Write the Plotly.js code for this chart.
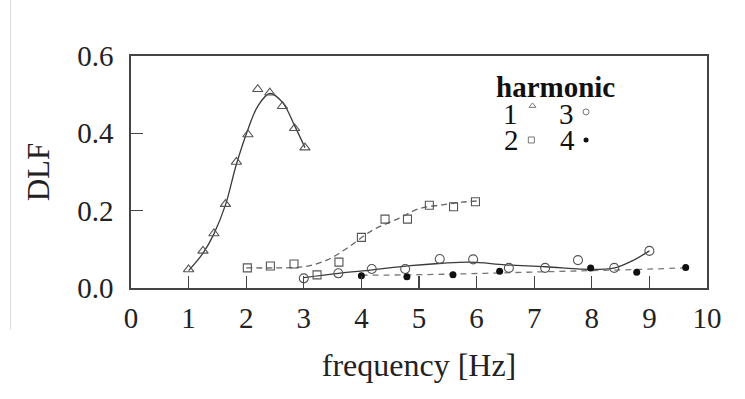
<!DOCTYPE html>
<html>
<head>
<meta charset="utf-8">
<script src="https://cdn.plot.ly/plotly-3.0.1.min.js"></script>
<style>html,body{margin:0;padding:0;background:#fff;}#chart{width:745px;height:399px;}</style>
</head>
<body>
<div id="chart"></div>
<script>
// Harmonic 1 (open triangles) measured points and fitted curve
const h1X = [1.0, 1.25, 1.44, 1.64, 1.83, 2.03, 2.2, 2.41, 2.63, 2.84, 3.02];
const h1Y = [0.048, 0.096, 0.141, 0.217, 0.326, 0.397, 0.514, 0.505, 0.47, 0.413, 0.363];
const h1FitX = [1.0, 1.25, 1.44, 1.64, 1.83, 2.03, 2.2, 2.41, 2.63, 2.84, 3.02];
const h1FitY = [0.045, 0.09, 0.14, 0.215, 0.32, 0.41, 0.47, 0.503, 0.48, 0.42, 0.363];

// Harmonic 2 (open squares) measured points and fitted dashed curve
const h2X = [2.02, 2.42, 2.83, 3.23, 3.61, 4.0, 4.41, 4.8, 5.18, 5.6, 5.98];
const h2Y = [0.052, 0.057, 0.062, 0.034, 0.067, 0.131, 0.178, 0.178, 0.214, 0.21, 0.223];
const h2FitX = [2.0, 2.5, 3.0, 3.4, 3.75, 4.2, 4.65, 5.0, 5.4, 5.75, 6.0];
const h2FitY = [0.052, 0.052, 0.055, 0.072, 0.103, 0.15, 0.18, 0.205, 0.215, 0.222, 0.225];

// Harmonic 3 (open circles) measured points and fitted solid curve
const h3X = [3.0, 3.6, 4.18, 4.76, 5.36, 5.94, 6.56, 7.19, 7.76, 8.39, 9.0];
const h3Y = [0.025, 0.038, 0.049, 0.049, 0.075, 0.074, 0.052, 0.052, 0.072, 0.052, 0.096];
const h3FitX = [3.0, 3.6, 4.2, 4.8, 5.4, 5.9, 6.5, 7.2, 7.8, 8.1, 8.4, 8.7, 9.0];
const h3FitY = [0.027, 0.038, 0.047, 0.057, 0.064, 0.067, 0.06, 0.055, 0.049, 0.048, 0.052, 0.07, 0.096];

// Harmonic 4 (filled circles) measured points and fitted dashed curve
const h4X = [4.0, 4.79, 5.59, 6.4, 7.98, 8.78, 9.63];
const h4Y = [0.032, 0.029, 0.034, 0.043, 0.052, 0.041, 0.053];
const h4FitX = [4.0, 4.8, 5.6, 6.4, 7.2, 8.0, 8.8, 9.6];
const h4FitY = [0.033, 0.034, 0.036, 0.039, 0.042, 0.045, 0.048, 0.052];

const xTicks = [0, 1, 2, 3, 4, 5, 6, 7, 8, 9, 10];
const yTicks = [0, 0.2, 0.4, 0.6];
const yTickText = ['0.0', '0.2', '0.4', '0.6'];

const lineCol = '#3a3a3a';
const markCol = '#555555';
const font = 'Liberation Serif, Times New Roman, serif';

const traces = [
  {x: h1FitX, y: h1FitY, mode: 'lines', line: {color: lineCol, width: 1.3, shape: 'spline'}, hoverinfo: 'skip'},
  {x: h2FitX, y: h2FitY, mode: 'lines', line: {color: '#666', width: 1.3, dash: '6px,4px', shape: 'spline'}, hoverinfo: 'skip'},
  {x: h3FitX, y: h3FitY, mode: 'lines', line: {color: lineCol, width: 1.3, shape: 'spline'}, hoverinfo: 'skip'},
  {x: h4FitX, y: h4FitY, mode: 'lines', line: {color: '#777', width: 1.3, dash: '6px,5px', shape: 'spline'}, hoverinfo: 'skip'},
  {x: h1X, y: h1Y, mode: 'markers', marker: {symbol: 'triangle-up-open', size: 9, color: markCol, line: {width: 1.1}}},
  {x: h2X, y: h2Y, mode: 'markers', marker: {symbol: 'square-open', size: 8, color: markCol, line: {width: 1.1}}},
  {x: h3X, y: h3Y, mode: 'markers', marker: {symbol: 'circle-open', size: 9, color: markCol, line: {width: 1.1}}},
  {x: h4X, y: h4Y, mode: 'markers', marker: {symbol: 'circle', size: 7, color: '#111'}},
  // legend key symbols on an overlay axis (0..1 box coordinates)
  {x: [0.697], y: [0.785], xaxis: 'x2', yaxis: 'y2', mode: 'markers', marker: {symbol: 'triangle-up-open', size: 6, color: '#777', line: {width: 1}}},
  {x: [0.790], y: [0.759], xaxis: 'x2', yaxis: 'y2', mode: 'markers', marker: {symbol: 'circle-open', size: 6, color: '#777', line: {width: 1}}},
  {x: [0.695], y: [0.638], xaxis: 'x2', yaxis: 'y2', mode: 'markers', marker: {symbol: 'square-open', size: 6, color: '#777', line: {width: 1}}},
  {x: [0.790], y: [0.638], xaxis: 'x2', yaxis: 'y2', mode: 'markers', marker: {symbol: 'circle', size: 5, color: '#111'}}
];

const ann = (x, y, text, size, h) => ({xref: 'paper', yref: 'paper', x: x, y: y, xanchor: 'center', yanchor: 'middle',
  height: h, borderpad: 0, text: text, showarrow: false, font: {family: font, size: size, color: '#111'}});

const layout = {
  width: 745, height: 399,
  margin: {l: 131, r: 38, t: 56, b: 111},
  paper_bgcolor: '#fff', plot_bgcolor: '#fff',
  showlegend: false,
  font: {family: font, color: '#222', size: 29},
  xaxis: {
    range: [0, 10], tickvals: xTicks, ticktext: xTicks.map(String),
    ticks: 'inside', ticklen: 12, tickwidth: 1.3, tickcolor: '#444',
    showline: true, linecolor: '#444', linewidth: 1.6, mirror: true,
    showgrid: false, zeroline: false, ticklabelstandoff: 4,
    tickfont: {family: font, size: 29, color: '#222'},
    title: {text: 'frequency [Hz]', font: {family: font, size: 32, color: '#222'}, standoff: 20}
  },
  yaxis: {
    range: [0, 0.6], tickvals: yTicks, ticktext: yTickText,
    ticks: 'inside', ticklen: 12, tickwidth: 1.3, tickcolor: '#444',
    showline: true, linecolor: '#444', linewidth: 1.6, mirror: true,
    showgrid: false, zeroline: false, ticklabelstandoff: 10,
    tickfont: {family: font, size: 29, color: '#222'},
    title: {text: 'DLF', font: {family: font, size: 31, color: '#222'}, standoff: 18}
  },
  xaxis2: {overlaying: 'x', range: [0, 1], visible: false},
  yaxis2: {overlaying: 'y', range: [0, 1], visible: false},
  annotations: [
    ann(0.7366, 0.868, '<b>harmonic</b>', 29, 26),
    ann(0.659, 0.75, '1', 29, 24),
    ann(0.7556, 0.75, '3', 29, 24),
    ann(0.660, 0.638, '2', 29, 24),
    ann(0.757, 0.638, '4', 29, 24)
  ],
  shapes: [
    {type: 'line', xref: 'paper', yref: 'paper', x0: -0.209, x1: -0.209, y0: -0.18, y1: 1.25, line: {color: '#dddddd', width: 1}}
  ]
};

Plotly.newPlot('chart', traces, layout, {staticPlot: true, displayModeBar: false});
</script>
</body>
</html>
